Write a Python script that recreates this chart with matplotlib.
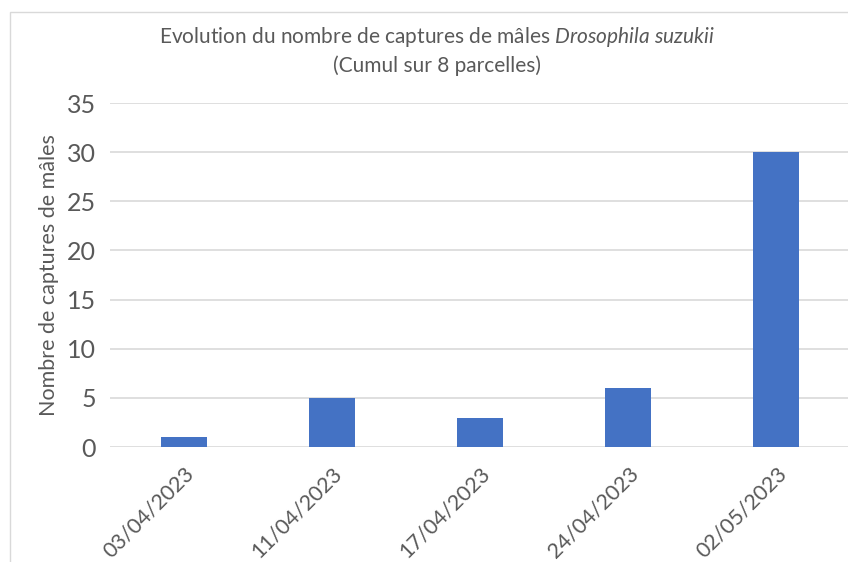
import matplotlib
matplotlib.use('Agg')
import matplotlib.pyplot as plt
from matplotlib.patches import Rectangle

dates = ['03/04/2023', '11/04/2023', '17/04/2023', '24/04/2023', '02/05/2023']
captures = [1, 5, 3, 6, 30]
yticks = [0, 5, 10, 15, 20, 25, 30, 35]

txt = '#595959'
plt.rcParams['font.family'] = ['Lato', 'DejaVu Sans']
plt.rcParams['mathtext.fontset'] = 'custom'
plt.rcParams['mathtext.it'] = 'Lato:italic'
plt.rcParams['mathtext.rm'] = 'Lato'

fig = plt.figure(figsize=(8.48, 5.62), dpi=100)
ax = fig.add_axes([0.1297, 0.2046, 0.873, 0.6121])
x = list(range(len(dates)))
ax.bar(x, captures, width=0.31, color='#4472C4', zorder=3)
ax.set_xlim(-0.5, 4.5)
ax.set_ylim(0, 35)
ax.set_yticks(yticks)
ax.set_yticklabels([str(v) for v in yticks], fontsize=18, color=txt)
ax.set_xticks(x)
ax.set_xticklabels(dates, rotation=45, ha='right', rotation_mode='anchor', fontsize=15.5, color=txt)
ax.tick_params(length=0, pad=10)
ax.tick_params(axis='x', pad=12)
ax.grid(True, axis='y', color='#D9D9D9', linewidth=1.2, zorder=0)
for s in ax.spines.values():
    s.set_visible(False)
ax.set_ylabel('Nombre de captures de mâles', fontsize=15.5, color=txt, labelpad=6)

fig.text(0.515, 0.935, 'Evolution du nombre de captures de mâles $\\it{Drosophila\\ suzukii}$',
         ha='center', va='center', fontsize=15, color=txt)
fig.text(0.515, 0.883, '(Cumul sur 8 parcelles)', ha='center', va='center', fontsize=15, color=txt)

fig.patches.append(Rectangle((10/848, -0.1), 1.2, 1 - 12/562 + 0.1, transform=fig.transFigure,
                             fill=False, edgecolor='#D9D9D9', linewidth=1))

fig.savefig('out.png', dpi=100)
